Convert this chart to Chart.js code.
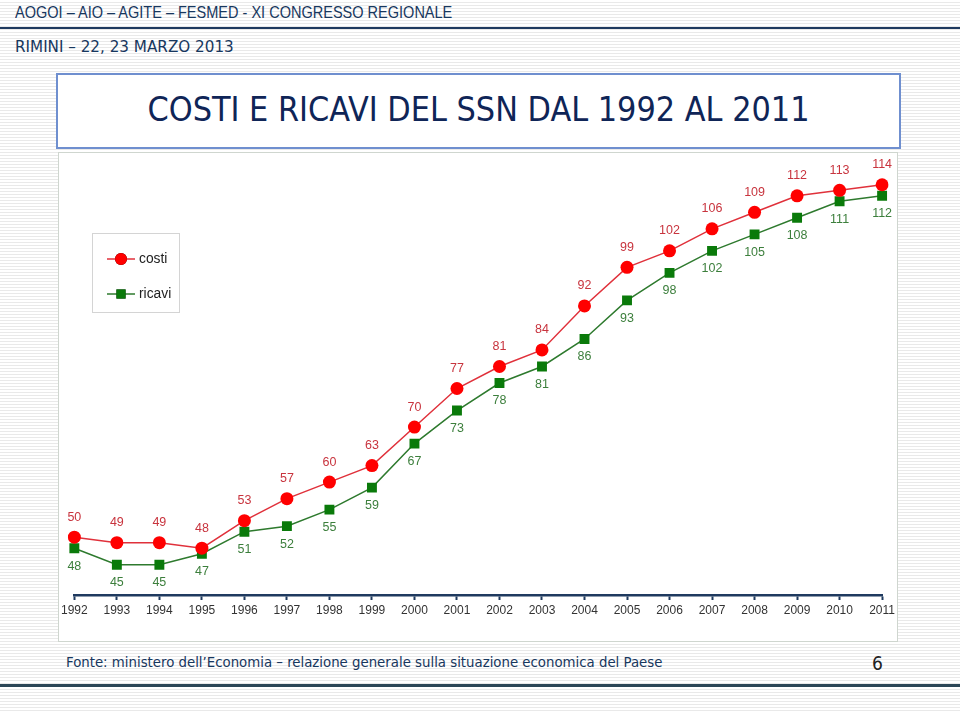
<!DOCTYPE html>
<html>
<head>
<meta charset="utf-8">
<script src="https://cdn.jsdelivr.net/npm/chart.js@4/dist/chart.umd.min.js"></script>
<style>
  html, body { margin:0; padding:0; }
  body {
    width:960px; height:713px; position:relative; overflow:hidden;
    background: repeating-linear-gradient(to bottom, #ffffff 0px, #ffffff 2px, #e9e9e9 2px, #e9e9e9 3px);
    font-family: "Liberation Sans", Arial, sans-serif;
  }
  .hdr1 { position:absolute; left:15px; top:3px; font-size:16.6px; color:#17375E; font-family:"Liberation Sans", Arial, sans-serif; white-space:nowrap; transform:scaleX(0.875); transform-origin:0 0; }
  .line1 { position:absolute; left:0; top:27px; width:960px; height:2px; background:#1F3A5F; }
  .hdr2 { position:absolute; left:15px; top:38px; font-size:15.2px; color:#17375E; font-family:"DejaVu Sans", Verdana, sans-serif; white-space:nowrap; }
  .titlebox { position:absolute; left:56px; top:73px; width:841px; height:72px; border:2px solid #6F8FCF; background:#fff; }
  .title { position:absolute; left:0; right:0; top:15px; text-align:center; font-size:33.8px; color:#0F2557; font-family:"DejaVu Sans Condensed","DejaVu Sans",sans-serif; white-space:nowrap; }
  .panel { position:absolute; left:58px; top:152px; width:838px; height:488px; border:1px solid #cfd6cf; background:#fff; }
  #wrap { position:absolute; left:58px; top:152px; width:840px; height:490px; }
  .foot { position:absolute; left:66px; top:653px; font-size:14.8px; color:#17375E; font-family:"DejaVu Sans Condensed","DejaVu Sans",sans-serif; white-space:nowrap; }
  .page { position:absolute; left:872px; top:652px; font-size:19px; color:#222; font-family:"DejaVu Sans Condensed","DejaVu Sans",sans-serif; }
  .line2 { position:absolute; left:0; top:684px; width:960px; height:3px; background:#2C4656; }
</style>
</head>
<body>
<div class="hdr1">AOGOI – AIO – AGITE – FESMED - XI CONGRESSO REGIONALE</div>
<div class="line1"></div>
<div class="hdr2">RIMINI – 22, 23 MARZO 2013</div>
<div class="titlebox"><div class="title">COSTI E RICAVI DEL SSN DAL 1992 AL 2011</div></div>
<div class="panel"></div>
<div id="wrap"><canvas id="c" width="840" height="490"></canvas></div>
<div class="foot">Fonte: ministero dell’Economia – relazione generale sulla situazione economica del Paese</div>
<div class="page">6</div>
<div class="line2"></div>
<script>
const years = ["1992","1993","1994","1995","1996","1997","1998","1999","2000","2001","2002","2003","2004","2005","2006","2007","2008","2009","2010","2011"];
const costi = [50,49,49,48,53,57,60,63,70,77,81,84,92,99,102,106,109,112,113,114];
const ricavi = [48,45,45,47,51,52,55,59,67,73,78,81,86,93,98,102,105,108,111,112];
const seriesNames = ["costi","ricavi"];

const labelPlugin = {
  id: 'valueLabels',
  afterDatasetsDraw(chart) {
    const ctx = chart.ctx;
    ctx.save();
    ctx.font = '12.5px "Liberation Sans", Arial, sans-serif';
    ctx.textAlign = 'center';
    ctx.textBaseline = 'middle';
    chart.data.datasets.forEach((ds, i) => {
      const meta = chart.getDatasetMeta(i);
      meta.data.forEach((pt, j) => {
        const off = i === 0 ? -20 : 18;
        ctx.fillStyle = ds.labelColor;
        ctx.fillText(String(ds.data[j]), pt.x, pt.y + off);
      });
    });
    ctx.restore();
  }
};

const legendPlugin = {
  id: 'boxLegend',
  afterDraw(chart) {
    const ctx = chart.ctx;
    ctx.save();
    const bx = 34, by = 81, bw = 87, bh = 79;
    ctx.strokeStyle = '#d4d4d4';
    ctx.lineWidth = 1;
    ctx.strokeRect(bx + 0.5, by + 0.5, bw, bh);
    const rows = [107, 142];
    chart.data.datasets.forEach((ds, i) => {
      const y = rows[i];
      ctx.strokeStyle = ds.borderColor;
      ctx.lineWidth = ds.borderWidth;
      ctx.beginPath(); ctx.moveTo(49, y); ctx.lineTo(77, y); ctx.stroke();
      Chart.helpers.drawPoint(ctx, {pointStyle: ds.pointStyle, radius: ds.pointRadius - 0.5, borderWidth: 0}, 63, y);
      ctx.fillStyle = ds.pointBackgroundColor;
      ctx.fill();
      ctx.fillStyle = '#222';
      ctx.font = '13.8px "Liberation Sans", Arial, sans-serif';
      ctx.textAlign = 'left';
      ctx.textBaseline = 'middle';
      ctx.fillText(ds.label, 81, y);
    });
    ctx.restore();
  }
};

new Chart(document.getElementById('c'), {
  type: 'line',
  data: {
    labels: years,
    datasets: [
      { label: seriesNames[0], data: costi, borderColor: '#E0313B', borderWidth: 1.5,
        pointStyle: 'circle', pointRadius: 6.5, pointBackgroundColor: '#FF0000', pointBorderColor: '#FF0000', pointBorderWidth: 0,
        labelColor: '#C8343E', tension: 0 },
      { label: seriesNames[1], data: ricavi, borderColor: '#2E7A2E', borderWidth: 1.5,
        pointStyle: 'rect', pointRadius: 7, pointBackgroundColor: '#0A7A0A', pointBorderColor: '#0A7A0A', pointBorderWidth: 0,
        labelColor: '#3C7F3C', tension: 0 }
    ]
  },
  options: {
    responsive: false,
    animation: false,
    events: [],
    layout: { padding: { left: 14, right: 14, top: 8, bottom: 0 } },
    plugins: { legend: { display: false }, tooltip: { enabled: false }, title: { display: false } },
    scales: {
      y: { display: false, min: 39.5, max: 118.5 },
      x: {
        offset: false,
        afterFit(scale) { scale.height = 47; },
        border: { display: true, color: '#1F3A5F', width: 2.5 },
        grid: { drawOnChartArea: false, drawTicks: true, tickLength: 5, tickColor: '#1F3A5F', tickWidth: 2 },
        ticks: { color: '#333', font: { size: 12, family: '"Liberation Sans", Arial, sans-serif' }, padding: 3, maxRotation: 0, autoSkip: false }
      }
    }
  },
  plugins: [labelPlugin, legendPlugin]
});
</script>
</body>
</html>
